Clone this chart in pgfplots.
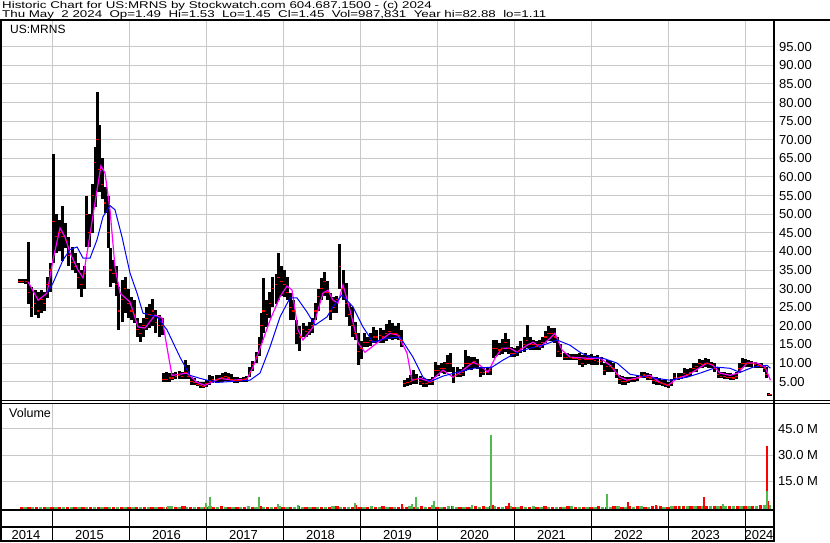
\documentclass[border=0pt]{standalone}
\usepackage{fontspec}
\setmainfont{Liberation Sans}
\usepackage{graphicx}
\usepackage{pgfplots}
\usepackage{pgfplotstable}
\pgfplotsset{compat=1.18}
\definecolor{gridc}{RGB}{200,200,200}
\definecolor{vgreen}{RGB}{80,185,80}
\definecolor{vred}{RGB}{255,0,0}
\definecolor{mag}{RGB}{255,0,255}
\definecolor{mablue}{RGB}{0,0,255}

\pgfplotstableread{
t hi lo cl
2014.58 32.6 31.6 32.0
2014.62 32.6 31.5 32.0
2014.66 32.5 31.2 31.8
2014.70 42.4 26.0 29.0
2014.74 30.5 22.5 25.0
2014.78 29.6 23.0 26.0
2014.82 29.0 22.1 24.0
2014.86 29.6 23.4 27.0
2014.90 29.0 24.0 26.0
2014.94 33.0 27.5 31.0
2014.98 37.0 29.0 35.0
2015.02 66.3 37.0 48.0
2015.06 50.0 39.6 44.0
2015.10 48.5 40.0 45.0
2015.14 52.3 37.3 44.0
2015.18 47.7 41.0 43.0
2015.22 44.0 36.0 39.0
2015.26 41.2 35.0 37.0
2015.30 39.6 34.2 36.0
2015.34 37.0 30.0 33.0
2015.38 35.0 27.8 31.0
2015.42 36.0 30.0 34.0
2015.45 55.0 41.2 50.0
2015.49 50.0 41.2 45.0
2015.53 58.0 45.0 55.0
2015.56 68.0 52.0 64.0
2015.59 82.8 56.0 70.0
2015.62 74.0 56.0 62.0
2015.65 65.0 54.0 58.0
2015.69 57.4 50.4 53.0
2015.73 55.0 41.0 45.0
2015.76 41.0 30.4 35.0
2015.80 37.7 31.5 34.0
2015.84 36.0 28.0 31.0
2015.87 30.4 18.9 24.0
2015.91 32.3 21.0 27.0
2015.95 33.0 23.4 30.0
2015.99 30.0 22.0 26.0
2016.03 27.8 21.5 24.0
2016.07 27.0 20.7 23.0
2016.11 22.0 17.0 19.0
2016.15 20.7 15.6 18.0
2016.19 22.0 17.0 20.0
2016.23 25.0 18.9 22.0
2016.27 26.0 19.5 23.0
2016.31 27.2 20.0 24.0
2016.35 24.2 18.0 21.0
2016.39 23.0 17.0 20.0
2016.43 22.0 17.5 20.0
2016.45 7.3 4.8 5.5
2016.49 7.5 4.8 5.6
2016.53 7.4 5.0 6.0
2016.57 7.3 5.4 6.0
2016.61 7.6 5.6 6.5
2016.65 7.8 5.8 6.8
2016.69 7.5 5.6 6.3
2016.73 10.8 5.8 7.5
2016.77 9.5 5.8 6.5
2016.81 6.2 4.2 5.0
2016.85 6.0 4.0 4.8
2016.89 5.2 3.8 4.3
2016.93 5.0 3.2 3.9
2016.97 4.8 3.2 3.8
2017.01 5.4 3.5 4.5
2017.05 6.7 4.2 5.0
2017.09 6.5 4.6 5.5
2017.13 6.8 4.6 5.6
2017.17 6.7 4.8 5.5
2017.21 7.3 5.0 6.0
2017.25 7.6 5.2 6.5
2017.29 7.3 5.0 6.0
2017.33 7.0 4.8 5.5
2017.37 6.2 4.6 5.2
2017.41 6.2 4.6 5.2
2017.45 6.0 4.8 5.2
2017.49 6.3 4.8 5.5
2017.53 6.5 5.0 5.8
2017.57 8.9 6.2 7.5
2017.61 10.5 7.8 9.5
2017.65 13.0 10.0 11.5
2017.69 17.0 12.0 15.0
2017.72 23.4 15.4 20.0
2017.75 32.9 18.0 24.0
2017.79 26.9 19.7 23.0
2017.83 29.0 22.0 26.0
2017.87 33.0 25.0 30.0
2017.91 34.0 26.0 31.0
2017.94 39.6 27.0 33.0
2017.98 36.0 28.0 32.0
2018.02 35.0 27.8 31.0
2018.06 33.0 27.0 29.0
2018.10 28.8 21.5 25.0
2018.14 27.0 21.5 24.0
2018.18 21.5 15.0 18.0
2018.22 20.0 13.3 17.0
2018.26 20.7 17.0 19.0
2018.30 20.0 17.0 18.5
2018.34 21.0 17.5 19.0
2018.38 22.0 18.0 20.0
2018.42 26.1 21.5 24.0
2018.46 30.0 24.0 28.0
2018.50 32.9 27.0 30.0
2018.54 34.5 28.0 32.0
2018.58 32.0 26.9 29.0
2018.62 28.8 21.5 24.0
2018.66 27.8 23.4 25.0
2018.70 28.0 23.4 27.0
2018.74 42.0 30.0 36.0
2018.78 35.0 27.0 30.0
2018.82 31.5 22.4 26.0
2018.86 26.0 20.0 23.0
2018.90 25.1 17.0 20.0
2018.94 21.0 16.2 18.0
2018.98 18.0 9.4 13.0
2019.02 16.0 11.0 14.0
2019.06 18.0 14.3 15.5
2019.10 17.0 14.3 15.5
2019.14 18.0 14.5 16.0
2019.18 19.7 15.4 17.0
2019.22 19.0 15.4 17.0
2019.26 19.5 15.5 17.5
2019.30 19.0 15.4 17.0
2019.34 20.5 16.0 18.0
2019.38 21.5 16.5 18.5
2019.42 20.7 16.2 18.0
2019.46 20.0 16.5 18.0
2019.50 20.7 16.2 17.5
2019.54 18.9 14.3 16.0
2019.58 5.4 3.5 4.5
2019.62 6.0 3.8 4.8
2019.66 6.7 4.0 5.0
2019.70 8.1 4.5 5.5
2019.74 7.0 4.5 5.5
2019.78 6.5 4.0 5.0
2019.82 6.0 3.5 4.5
2019.86 5.8 3.6 4.5
2019.90 5.8 4.0 4.8
2019.94 6.2 4.0 5.0
2019.98 10.2 6.2 8.0
2020.02 9.5 6.5 8.0
2020.06 10.0 7.3 8.5
2020.10 10.2 7.0 8.5
2020.14 12.1 7.5 10.0
2020.18 12.7 7.5 10.0
2020.22 8.9 4.6 6.5
2020.26 8.9 6.2 7.0
2020.30 8.5 6.2 7.0
2020.34 9.0 6.5 7.5
2020.37 13.5 8.0 10.0
2020.41 12.0 8.5 10.0
2020.45 11.6 8.1 10.0
2020.49 11.6 8.6 10.5
2020.53 11.0 8.5 9.5
2020.57 9.0 6.2 7.5
2020.61 8.9 6.7 7.5
2020.65 8.6 6.7 7.5
2020.69 8.9 6.7 8.0
2020.73 16.2 11.3 14.0
2020.77 16.2 11.8 14.0
2020.81 15.5 12.1 13.5
2020.85 16.5 12.5 14.0
2020.89 18.0 13.0 15.5
2020.93 16.5 12.5 14.0
2020.97 14.3 11.6 12.5
2021.01 14.0 11.6 12.5
2021.05 14.5 11.8 13.0
2021.09 16.0 12.7 14.0
2021.13 17.0 12.9 15.0
2021.17 20.2 14.0 16.0
2021.21 17.0 13.5 15.0
2021.25 16.2 13.5 15.0
2021.29 16.0 13.5 14.5
2021.33 16.2 13.5 15.0
2021.37 17.0 14.0 15.5
2021.41 18.5 15.4 17.0
2021.45 19.9 16.0 18.0
2021.49 19.4 16.0 18.0
2021.53 19.4 15.4 17.0
2021.57 17.0 11.6 13.0
2021.61 15.0 11.6 12.5
2021.65 12.7 10.8 11.5
2021.69 12.7 10.8 11.5
2021.73 12.5 10.8 11.5
2021.77 12.5 10.8 11.3
2021.81 12.5 10.8 11.3
2021.85 12.7 9.5 11.0
2021.89 12.2 8.9 10.0
2021.93 12.7 9.5 11.0
2021.97 12.1 9.8 11.0
2022.01 12.5 9.4 11.0
2022.05 12.0 9.5 10.8
2022.09 12.1 9.4 10.5
2022.13 11.5 9.4 10.5
2022.17 10.0 6.7 8.0
2022.21 10.8 7.5 9.0
2022.25 10.5 7.5 9.0
2022.29 10.0 7.5 8.5
2022.33 8.5 6.0 7.0
2022.37 6.7 4.5 5.5
2022.41 6.5 4.0 5.0
2022.45 6.2 4.0 5.0
2022.49 6.2 4.6 5.3
2022.53 6.2 4.8 5.5
2022.57 6.2 4.8 5.5
2022.61 6.5 5.2 5.8
2022.65 7.5 5.9 6.5
2022.69 7.5 5.9 6.8
2022.73 7.2 5.4 6.2
2022.77 7.0 5.4 6.0
2022.81 6.2 4.5 5.2
2022.85 6.2 4.2 5.0
2022.89 6.0 4.0 4.8
2022.93 5.4 3.8 4.5
2022.97 5.4 3.5 4.2
2023.01 5.0 3.2 4.0
2023.05 5.6 3.8 4.5
2023.09 7.3 5.4 6.2
2023.13 7.3 5.4 6.2
2023.17 7.3 5.6 6.5
2023.21 8.6 6.2 7.2
2023.25 8.3 6.2 7.0
2023.29 8.6 6.5 7.5
2023.33 10.0 7.5 8.5
2023.37 10.0 7.5 9.0
2023.41 11.0 8.6 10.0
2023.45 10.8 8.6 9.5
2023.49 11.3 9.0 10.0
2023.53 11.0 8.6 9.8
2023.57 10.2 8.6 9.5
2023.61 10.0 7.5 8.5
2023.65 8.9 5.9 7.0
2023.69 7.5 5.9 6.5
2023.73 7.5 5.6 6.5
2023.77 7.2 5.6 6.2
2023.81 7.3 5.4 6.2
2023.85 7.0 5.4 6.0
2023.89 7.5 5.6 6.5
2023.93 10.0 7.3 8.5
2023.97 11.3 8.6 10.0
2024.01 11.0 8.9 10.0
2024.05 10.8 8.9 10.0
2024.09 10.5 8.9 9.8
2024.13 10.2 8.6 9.5
2024.17 10.0 8.6 9.3
2024.21 10.0 8.6 9.2
2024.25 9.5 7.5 8.5
2024.28 8.9 6.0 7.0
2024.31 1.9 1.3 1.5
2024.33 1.6 1.11 1.45
}\price

\pgfplotstableread{
t v
2014.690 31.8
2014.820 26.9
2014.935 28.8
2015.013 37.7
2015.104 46.3
2015.169 43.9
2015.234 39.6
2015.338 35.0
2015.403 32.9
2015.468 41.2
2015.558 53.0
2015.636 63.0
2015.688 61.1
2015.753 51.2
2015.818 35.8
2015.883 28.8
2016.013 26.4
2016.117 19.7
2016.208 19.4
2016.338 22.9
2016.429 22.1
2016.506 12.7
2016.558 6.7
2016.753 7.3
2016.883 4.8
2016.987 4.0
2017.182 5.9
2017.351 5.4
2017.532 5.7
2017.610 8.9
2017.727 15.4
2017.831 21.5
2017.961 27.8
2018.052 30.7
2018.117 29.6
2018.195 18.9
2018.260 16.2
2018.390 19.7
2018.519 28.8
2018.584 29.6
2018.649 26.9
2018.714 26.1
2018.779 31.0
2018.870 24.2
2018.974 15.4
2019.065 12.9
2019.221 15.4
2019.390 18.0
2019.494 17.5
2019.610 12.7
2019.675 5.4
2019.779 5.9
2019.909 5.0
2020.078 8.1
2020.208 6.2
2020.338 8.1
2020.468 10.2
2020.558 9.4
2020.662 7.5
2020.753 11.3
2020.844 14.0
2020.948 14.0
2021.039 12.9
2021.169 14.8
2021.247 15.6
2021.338 14.3
2021.468 16.7
2021.532 18.0
2021.623 13.5
2021.727 11.6
2021.948 11.3
2022.117 11.3
2022.247 9.4
2022.377 6.2
2022.468 5.4
2022.636 6.2
2022.766 6.7
2022.896 4.8
2023.000 4.0
2023.117 5.9
2023.247 6.7
2023.377 8.3
2023.506 10.0
2023.584 9.4
2023.675 7.3
2023.805 6.7
2023.909 7.3
2024.026 10.0
2024.156 10.0
2024.260 8.9
2024.330 5.4
}\maShort

\pgfplotstableread{
t v
2014.935 28.8
2015.013 31.5
2015.143 37.7
2015.234 40.5
2015.325 41.2
2015.403 38.2
2015.494 38.2
2015.584 43.1
2015.662 49.3
2015.753 52.3
2015.818 51.2
2015.909 43.9
2016.013 34.2
2016.104 28.8
2016.182 23.4
2016.364 22.4
2016.494 18.9
2016.662 11.6
2016.792 6.7
2016.922 5.9
2017.013 5.4
2017.143 4.8
2017.571 5.4
2017.701 7.3
2017.831 14.3
2017.961 22.4
2018.091 27.5
2018.182 27.5
2018.312 23.7
2018.416 20.2
2018.571 22.4
2018.649 25.1
2018.766 28.3
2018.909 25.1
2019.039 19.7
2019.169 15.6
2019.351 16.7
2019.519 17.0
2019.688 11.6
2019.818 6.2
2019.909 5.0
2020.078 6.5
2020.260 7.5
2020.468 8.6
2020.714 8.9
2020.857 10.8
2021.039 12.9
2021.208 14.0
2021.377 14.8
2021.558 16.2
2021.727 14.8
2021.857 12.9
2021.987 11.6
2022.156 11.3
2022.338 10.0
2022.506 7.0
2022.727 6.2
2023.026 5.4
2023.247 6.2
2023.416 7.3
2023.636 8.9
2023.805 8.6
2023.935 7.5
2024.104 8.9
2024.286 9.4
2024.330 8.6
}\maLong

\pgfplotstableread[row sep=\\]{
t v\\
2014.6 0.2\\2014.7 0.3\\2014.8 0.2\\2014.9 0.3\\2015.0 0.2\\2015.1 0.2\\2015.2 0.3\\2015.3 0.2\\2015.4 0.3\\2015.5 0.2\\
2015.6 0.2\\2015.7 0.3\\2015.8 0.2\\2015.9 0.2\\2016.0 0.3\\2016.1 0.2\\2016.2 0.3\\2016.3 0.2\\
2016.4 0.3\\2016.5 0.5\\2016.6 0.4\\2016.7 0.6\\2016.8 0.3\\2016.9 0.4\\2017.0 0.5\\2017.1 0.3\\2017.2 0.6\\2017.3 0.4\\
2017.4 0.3\\2017.5 0.5\\2017.6 0.4\\2017.7 0.6\\2017.8 0.3\\2017.9 0.5\\2018.0 0.4\\2018.1 0.3\\2018.2 0.6\\2018.3 0.4\\
2018.4 0.5\\2018.5 0.3\\2018.6 0.4\\2018.7 0.6\\2018.8 0.3\\2018.9 0.5\\2019.0 0.4\\2019.1 0.3\\2019.2 0.5\\2019.3 0.6\\
2019.4 0.4\\2019.5 0.3\\2019.6 0.5\\2019.7 0.4\\2019.8 0.6\\2019.9 0.3\\2020.0 0.5\\2020.1 0.4\\2020.2 0.6\\2020.3 0.5\\
2020.4 0.4\\2020.5 0.6\\2020.6 0.6\\2020.7 0.8\\2020.8 0.5\\2020.9 0.7\\2021.0 0.4\\2021.1 0.6\\2021.2 0.5\\2021.3 0.4\\
2021.4 0.6\\2021.5 0.5\\2021.6 0.4\\2021.7 0.6\\2021.8 0.5\\2021.9 0.4\\2022.0 0.5\\2022.1 0.6\\2022.2 0.4\\2022.3 0.7\\
2022.4 0.5\\2022.5 0.6\\2022.6 0.8\\2022.7 0.5\\2022.8 0.6\\2022.9 0.7\\2023.0 0.5\\2023.1 0.8\\2023.2 0.9\\2023.3 0.6\\
2023.4 0.8\\2023.5 1.0\\2023.6 0.7\\2023.7 0.9\\2023.8 0.8\\2023.9 1.0\\2024.0 0.7\\2024.1 0.9\\2024.2 1.2\\2024.3 0.8\\
}\redstrip

\pgfplotstableread[row sep=\\]{
t v\\
2014.65 0.1\\2014.75 0.2\\2014.85 0.1\\2014.95 0.2\\2015.05 0.1\\2015.15 0.1\\2015.25 0.2\\2015.35 0.1\\2015.45 0.2\\2015.55 0.1\\
2015.65 0.1\\2015.75 0.2\\2015.85 0.1\\2015.95 0.2\\2016.05 0.1\\2016.15 0.2\\2016.25 0.1\\2016.35 0.2\\
2016.45 0.4\\2016.55 0.6\\2016.65 0.3\\2016.75 0.5\\2016.85 0.4\\2016.95 0.3\\2017.05 0.6\\2017.15 0.4\\2017.25 0.5\\2017.35 0.3\\
2017.45 0.4\\2017.55 0.6\\2017.65 0.3\\2017.75 0.5\\2017.85 0.4\\2017.95 0.6\\2018.05 0.3\\2018.15 0.5\\2018.25 0.4\\2018.35 0.3\\
2018.45 0.5\\2018.55 0.4\\2018.65 0.6\\2018.75 0.3\\2018.85 0.5\\2018.95 0.4\\2019.05 0.3\\2019.15 0.6\\2019.25 0.5\\2019.35 0.4\\
2019.45 0.3\\2019.55 0.5\\2019.65 0.6\\2019.75 0.4\\2019.85 0.5\\2019.95 0.3\\2020.05 0.4\\2020.15 0.6\\2020.25 0.5\\2020.35 0.4\\
2020.45 0.3\\2020.55 0.5\\2020.65 0.5\\2020.75 0.7\\2020.85 0.4\\2020.95 0.6\\2021.05 0.5\\2021.15 0.4\\2021.25 0.6\\2021.35 0.5\\
2021.45 0.3\\2021.55 0.5\\2021.65 0.4\\2021.75 0.6\\2021.85 0.4\\2021.95 0.5\\2022.05 0.3\\2022.15 0.5\\2022.25 0.4\\2022.35 0.6\\
2022.45 0.5\\2022.55 0.4\\2022.65 0.7\\2022.75 0.5\\2022.85 0.6\\2022.95 0.4\\2023.05 0.7\\2023.15 0.9\\2023.25 0.6\\2023.35 0.8\\
2023.45 1.0\\2023.55 0.7\\2023.65 0.9\\2023.75 1.1\\2023.85 0.8\\2023.95 0.7\\2024.05 1.0\\2024.15 0.9\\2024.25 1.2\\
}\greenstrip

\pgfplotstableread{
t v
2016.430 0.5
2016.727 1.0
2018.948 1.3
2019.545 1.9
2020.400 0.3
2020.723 1.3
2020.931 2.3
2022.477 3.1
2022.840 1.3
2023.143 0.7
2023.471 5.9
2024.282 35.4
2024.299 3.6
}\redspike

\pgfplotstableread{
t v
2016.506 0.8
2016.532 0.8
2016.996 2.5
2017.048 5.9
2017.684 5.9
2017.931 1.9
2018.199 1.3
2018.935 2.5
2019.675 1.9
2019.727 5.9
2019.931 1.7
2019.961 3.6
2020.208 0.6
2020.451 1.3
2020.697 41.7
2022.204 7.5
2023.350 0.8
2023.710 1.9
2024.282 9.4
2024.325 1.3
}\greenspike

\pgfplotsset{
  chartbase/.style={
    scale only axis, width=772pt, anchor=south west,
    xmin=2014.3506, xmax=2024.3766,
    axis line style={draw=none}, major tick length=0pt, tick style={draw=none},
    xtick={2015,2016,2017,2018,2019,2020,2021,2022,2023,2024}, xticklabels={},
    yticklabel pos=right,
    yticklabel style={anchor=west, inner sep=0pt, font=\fontsize{13}{13}\selectfont},
    grid=major, major grid style={draw=gridc, line width=1pt},
    /pgf/number format/assume math mode=true,
  },
  vbars/.style 2 args={draw=none, mark=none, error bars/.cd, y dir=minus, y explicit,
    error mark=none, error bar style={draw=#1, line width=#2, line cap=butt}},
}

\begin{document}
\begin{tikzpicture}
\useasboundingbox (0,0) rectangle (830pt,543pt);
\fill[white] (0,0) rectangle (830pt,543pt);

% price panel
\begin{axis}[chartbase, at={(2pt,142pt)}, height=381pt,
  ymin=-0.19, ymax=102.18,
  ytick={5,10,15,20,25,30,35,40,45,50,55,60,65,70,75,80,85,90,95},
  yticklabels={5.00,10.00,15.00,20.00,25.00,30.00,35.00,40.00,45.00,50.00,55.00,60.00,65.00,70.00,75.00,80.00,85.00,90.00,95.00},
  yticklabel style={xshift=5pt}]
\addplot[draw=none, mark=none, error bars/.cd, y dir=both, y explicit, error mark=none,
  error bar style={draw=black, line width=3pt, line cap=butt}]
  table[x=t, y=cl, y error plus expr=\thisrow{hi}-\thisrow{cl}, y error minus expr=\thisrow{cl}-\thisrow{lo}] {\price};
\addplot[only marks, mark=-, mark size=1.3pt, color=vred, mark options={line width=1.1pt}]
  table[x=t, y=cl] {\price};
\addplot[mag, line width=1.2pt, mark=none] table[x=t, y=v] {\maShort};
\addplot[mablue, line width=1pt, mark=none] table[x=t, y=v] {\maLong};
\end{axis}

% volume panel
\begin{axis}[chartbase, at={(2pt,34pt)}, height=105pt,
  ymin=-0.86, ymax=59.25,
  ytick={15,30,45}, yticklabels={15.0 M,30.0 M,45.0 M},
  yticklabel style={xshift=4pt}]
\addplot[vbars={vred}{3.4pt}] table[x=t, y=v, y error minus expr=\thisrow{v}+3] {\redstrip};
\addplot[vbars={vgreen}{3.4pt}] table[x=t, y=v, y error minus expr=\thisrow{v}+3] {\greenstrip};
\addplot[vbars={vred}{2pt}] table[x=t, y=v, y error minus expr=\thisrow{v}+3] {\redspike};
\addplot[vbars={vgreen}{2pt}] table[x=t, y=v, y error minus expr=\thisrow{v}+3] {\greenspike};
\end{axis}

% frame lines
\draw[line width=2pt] (0,523pt) -- (830pt,523pt);
\draw[line width=2pt] (1pt,523pt) -- (1pt,1pt);
\draw[line width=2.5pt] (774pt,523pt) -- (774pt,1pt);
\draw[line width=1pt] (0,142pt) -- (830pt,142pt);
\draw[line width=1pt] (0,139pt) -- (830pt,139pt);
\draw[line width=2pt] (0,33.3pt) -- (774pt,33.3pt);
\draw[line width=2pt] (0,16.3pt) -- (774pt,16.3pt);
\draw[line width=2pt] (0,2pt) -- (774pt,2pt);
\foreach \xx in {52,129,206,283,360,437,514,591,668,745}
  \draw[line width=1pt] (\xx pt,33.3pt) -- (\xx pt,2pt);

% year labels
\foreach \xx/\yy in {26/2014,89.5/2015,166.5/2016,243.5/2017,320.5/2018,397.5/2019,474.5/2020,551.5/2021,628.5/2022,705.5/2023,759/2024}
  \node[anchor=base, inner sep=0pt, font=\fontsize{13}{13}\selectfont] at (\xx pt,3.7pt) {\yy};

% panel labels
\node[anchor=base west, inner sep=0pt, font=\fontsize{12}{12}\selectfont] at (10pt,509.7pt) {US:MRNS};
\node[anchor=base west, inner sep=0pt, font=\fontsize{12.5}{12.5}\selectfont] at (9pt,125pt) {Volume};

% header
\node[anchor=base west, inner sep=0pt] at (2pt,534.7pt)
  {\scalebox{1.36}[1]{\fontsize{9.8}{10}\selectfont Historic Chart for US:MRNS by Stockwatch.com 604.687.1500 - (c) 2024}};
\node[anchor=base west, inner sep=0pt] at (2pt,525.7pt)
  {\scalebox{1.36}[1]{\fontsize{9.8}{10}\selectfont Thu May~ 2 2024~ Op=1.49~ Hi=1.53~ Lo=1.45~ Cl=1.45~ Vol=987,831~ Year hi=82.88~ lo=1.11}};
\end{tikzpicture}
\end{document}
